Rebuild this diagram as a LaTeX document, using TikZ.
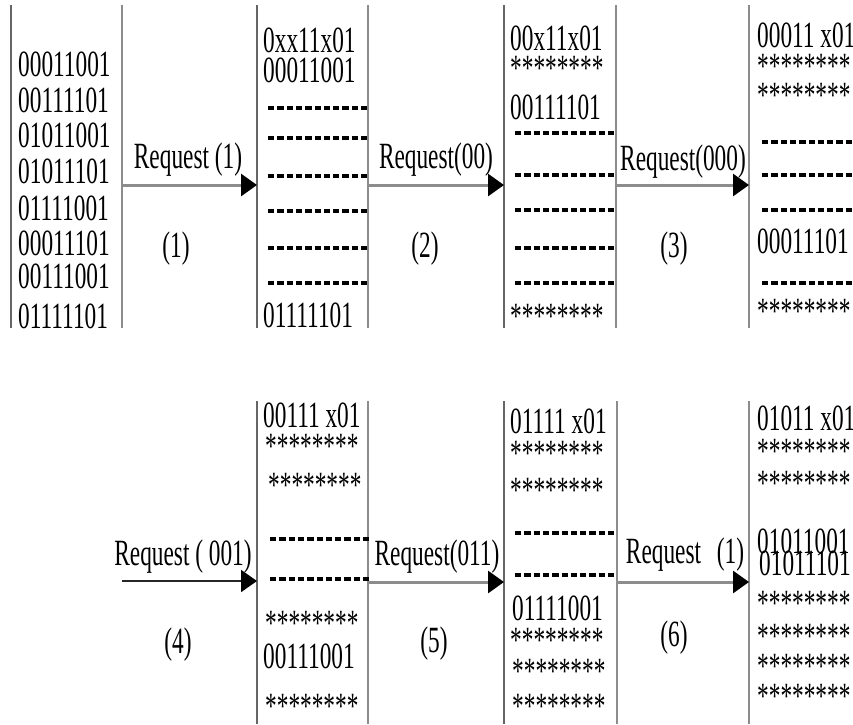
\documentclass[tikz,border=0pt]{standalone}
\usepackage{fontspec}
\setmainfont[FakeStretch=0.63]{Liberation Serif}
\usetikzlibrary{arrows.meta}
\tikzset{
  txt/.style={anchor=base west, inner sep=0pt, font=\fontsize{37}{37}\selectfont},
  lbl/.style={anchor=base, inner sep=0pt, font=\fontsize{37}{37}\selectfont},
  lline/.style={draw=black!60, line width=1.7pt},
  rline/.style={draw=black!45, line width=2.3pt},
  dashrow/.style={draw=black, line width=3.2pt, dash pattern=on 6.3pt off 3pt},
  req/.style={draw=black!45, line width=3pt, -{Triangle[length=16pt,width=22pt,color=black]}},
  reqdark/.style={draw=black!85, line width=1.8pt, -{Triangle[length=16pt,width=22pt,color=black]}},
}
\begin{document}
\begin{tikzpicture}[x=1pt,y=-1pt]
\useasboundingbox (0,0) rectangle (853,724);

% ---------- top row column lines ----------
\draw[lline] (11,5) -- (11,328);
\draw[rline] (122,5) -- (122,328);
\draw[lline] (257,5) -- (257,328);
\draw[rline] (368,5) -- (368,328);
\draw[lline] (504,5) -- (504,328);
\draw[rline] (616,5) -- (616,328);
\draw[rline] (749,5) -- (749,328);

% ---------- bottom row column lines ----------
\draw[lline] (257,401) -- (257,724);
\draw[rline] (368,401) -- (368,724);
\draw[lline] (504,401) -- (504,724);
\draw[rline] (617,401) -- (617,724);
\draw[rline] (749,401) -- (749,724);

% ---------- arrow end points ----------
\coordinate (a1s) at (122,185); \coordinate (a1e) at (257,185);
\coordinate (a2s) at (368,185); \coordinate (a2e) at (504,185);
\coordinate (a3s) at (616,185); \coordinate (a3e) at (749,185);
\coordinate (a4s) at (122,581); \coordinate (a4e) at (257,581);
\coordinate (a5s) at (368,582); \coordinate (a5e) at (504,582);
\coordinate (a6s) at (617,582); \coordinate (a6e) at (749,582);

\draw[req] (a1s) -- (a1e);
\draw[req] (a2s) -- (a2e);
\draw[req] (a3s) -- (a3e);
\draw[reqdark] (a4s) -- (a4e);
\draw[req] (a5s) -- (a5e);
\draw[req] (a6s) -- (a6e);

% ---------- request labels ----------
\node[lbl] (q1) at (188,168) {Request (1)};
\node[lbl] (q2) at (436,168) {Request(00)};
\node[lbl] (q3) at (683,170) {Request(000)};
\node[lbl] (q4) at (183,565) {Request ( 001)};
\node[lbl] (q5) at (437,565) {Request(011)};
\node[lbl] (q6) at (685,563) {Request \hspace{10pt}(1)};

\node[lbl] (n1) at (176,257) {(1)};
\node[lbl] (n2) at (425,257) {(2)};
\node[lbl] (n3) at (674,257) {(3)};
\node[lbl] (n4) at (178,653) {(4)};
\node[lbl] (n5) at (434,652) {(5)};
\node[lbl] (n6) at (674,646) {(6)};

% ---------- column 1 ----------
\node[txt] (c1a) at (18,76) {00011001};
\node[txt] (c1b) at (18,112) {00111101};
\node[txt] (c1c) at (18,147) {01011001};
\node[txt] (c1d) at (18,183) {01011101};
\node[txt] (c1e) at (18,220) {01111001};
\node[txt] (c1f) at (18,255) {00011101};
\node[txt] (c1g) at (18,288) {00111001};
\node[txt] (c1h) at (18,328) {01111101};

% ---------- column 2 ----------
\node[txt] (c2a) at (263,52) {0xx11x01};
\node[txt] (c2b) at (263,82) {00011001};
\node[txt] (c2h) at (263,327) {01111101};
\foreach \yy in {108,138,176,211,248,283}
  \draw[dashrow] (268,\yy) -- (370,\yy);

% ---------- column 3 ----------
\node[txt] (c3a) at (510,50) {00x11x01};
\node[txt] (c3b) at (510,80) {********};
\node[txt] (c3c) at (510,119) {00111101};
\node[txt] (c3h) at (510,328) {********};
\foreach \yy in {133,175,210,248,283}
  \draw[dashrow] (515,\yy) -- (617,\yy);

% ---------- column 4 ----------
\node[txt] (c4a) at (757,47) {00011 x01};
\node[txt] (c4b) at (757,78) {********};
\node[txt] (c4c) at (757,107) {********};
\node[txt] (c4f) at (757,253) {00011101};
\node[txt] (c4h) at (757,323) {********};
\foreach \yy in {142,175,210,283}
  \draw[dashrow] (762,\yy) -- (856,\yy);

% ---------- bottom column 1 ----------
\node[txt] (b1a) at (263,427) {00111 x01};
\node[txt] (b1b) at (265,458) {********};
\node[txt] (b1c) at (268,497) {********};
\node[txt] (b1f) at (265,635) {********};
\node[txt] (b1g) at (263,668) {00111001};
\node[txt] (b1h) at (265,718) {********};
\foreach \yy in {539,579}
  \draw[dashrow] (270,\yy) -- (372,\yy);

% ---------- bottom column 2 ----------
\node[txt] (b2a) at (510,433) {01111 x01};
\node[txt] (b2b) at (510,465) {********};
\node[txt] (b2c) at (510,502) {********};
\node[txt] (b2e) at (512,620) {01111001};
\node[txt] (b2f) at (510,652) {********};
\node[txt] (b2g) at (512,683) {********};
\node[txt] (b2h) at (512,718) {********};
\foreach \yy in {533,575}
  \draw[dashrow] (515,\yy) -- (617,\yy);

% ---------- bottom column 3 ----------
\node[txt] (b3a) at (757,430) {01011 x01};
\node[txt] (b3b) at (757,463) {********};
\node[txt] (b3c) at (757,495) {********};
\node[txt] (b3d) at (757,553) {01011001};
\node[txt] (b3e) at (759,575) {01011101};
\node[txt] (b3f) at (757,615) {********};
\node[txt] (b3g) at (757,648) {********};
\node[txt] (b3h) at (757,678) {********};
\node[txt] (b3i) at (757,708) {********};
\end{tikzpicture}
\end{document}
